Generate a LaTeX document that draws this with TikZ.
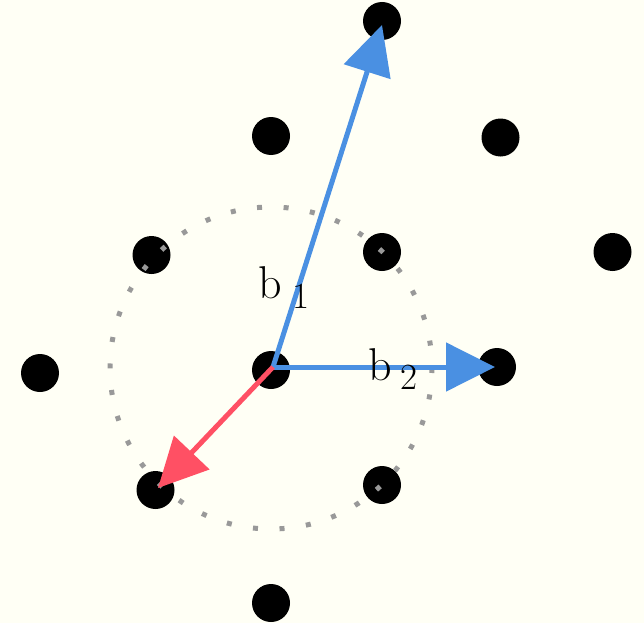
\documentclass[tikz,border=0pt]{standalone}
\usetikzlibrary{arrows.meta}
\definecolor{bg}{HTML}{FFFFF5}
\definecolor{vblue}{HTML}{4A90E2}
\definecolor{vred}{HTML}{FF5064}
\definecolor{cgrey}{HTML}{999999}
\begin{document}
\begin{tikzpicture}[x=1pt,y=-1pt,
  latt/.style={circle,fill=black,inner sep=0,minimum size=38pt},
  vec/.style={line width=5pt,-{Triangle[length=49pt,width=48pt]}},
  lab/.style={anchor=base west,inner sep=0,font=\fontsize{46}{46}\selectfont},
  sub/.style={anchor=base west,inner sep=0,font=\fontsize{37}{37}\selectfont}]
\fill[bg] (0,0) rectangle (644,623);
\useasboundingbox (0,0) rectangle (644,623);
% lattice points
\node[latt] (p1) at (382,21) {};
\node[latt] (p2) at (271,136) {};
\node[latt] (p3) at (500.5,137.5) {};
\node[latt] (p4) at (151.5,255) {};
\node[latt] (p5) at (382,252) {};
\node[latt] (p6) at (612.5,252) {};
\node[latt] (p7) at (40,373) {};
\node[latt] (p0) at (271,370) {};
\node[latt] (p8) at (497,367) {};
\node[latt] (p9) at (155.5,490) {};
\node[latt] (p10) at (382,485) {};
\node[latt] (p11) at (271,603) {};
% dotted circle
\draw[cgrey,line width=5pt,dash pattern=on 5pt off 21.6pt] (271,368) circle[radius=161];
% vectors
\coordinate (o) at (273,367);
\coordinate (t1) at (382,25);
\coordinate (t2) at (495,367);
\coordinate (t3) at (158,488);
\draw[vec,vblue] (o) -- (t1);
\draw[vec,vblue] (o) -- (t2);
\draw[vec,vred] (o) -- (t3);
% labels
\node[lab] (b1) at (258,298) {b};
\node[sub] (s1) at (292,308) {1};
\node[lab] (b2) at (368,380) {b};
\node[sub] (s2) at (400,389) {2};
\end{tikzpicture}
\end{document}
